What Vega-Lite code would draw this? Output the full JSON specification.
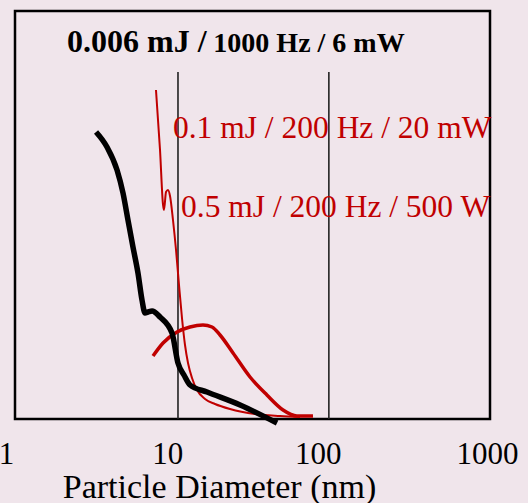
{
  "$schema": "https://vega.github.io/schema/vega-lite/v6.json",
  "width": 475,
  "height": 408,
  "autosize": {"type": "none"},
  "padding": {"left": 15, "top": 11, "right": 38, "bottom": 84},
  "background": "#f0e5eb",
  "config": {
    "view": {"stroke": "#000000", "strokeWidth": 2.5, "fill": "#f0e5eb"},
    "font": "Liberation Serif"
  },
  "datasets": {
    "black": [
      {"d": 3.25, "v": 287}, {"d": 3.81, "v": 272}, {"d": 4.41, "v": 249}, {"d": 4.81, "v": 226},
      {"d": 5.17, "v": 199}, {"d": 5.56, "v": 172}, {"d": 5.98, "v": 146}, {"d": 6.34, "v": 119},
      {"d": 6.62, "v": 106}, {"d": 6.92, "v": 107}, {"d": 7.34, "v": 108}, {"d": 8.24, "v": 102},
      {"d": 9.81, "v": 86}, {"d": 10.7, "v": 56}, {"d": 11.67, "v": 44}, {"d": 12.74, "v": 34},
      {"d": 16.32, "v": 27}, {"d": 26.4, "v": 14}, {"d": 45.2, "v": -4}
    ],
    "thinred": [
      {"d": 7.77, "v": 329}, {"d": 8.24, "v": 269}, {"d": 8.61, "v": 214}, {"d": 8.73, "v": 209},
      {"d": 8.99, "v": 227}, {"d": 9.25, "v": 229}, {"d": 9.53, "v": 223}, {"d": 9.95, "v": 199},
      {"d": 10.4, "v": 169}, {"d": 10.86, "v": 134}, {"d": 11.34, "v": 101}, {"d": 11.85, "v": 74},
      {"d": 12.38, "v": 56}, {"d": 13.12, "v": 41}, {"d": 14.11, "v": 29}, {"d": 15.85, "v": 20},
      {"d": 18.33, "v": 15}, {"d": 22.8, "v": 10}, {"d": 32.8, "v": 5}, {"d": 47.2, "v": 3}, {"d": 63.1, "v": 2}
    ],
    "thickred": [
      {"d": 7.44, "v": 63}, {"d": 8.61, "v": 76}, {"d": 10.55, "v": 87}, {"d": 12.74, "v": 92},
      {"d": 15.39, "v": 94}, {"d": 17.55, "v": 92}, {"d": 19.72, "v": 84}, {"d": 23.82, "v": 66},
      {"d": 30.5, "v": 42}, {"d": 39.0, "v": 24}, {"d": 49.3, "v": 9}, {"d": 60.4, "v": 3}, {"d": 76.2, "v": 3}
    ],
    "rules": [{"d": 10.7, "top": 347, "bottom": 0}, {"d": 96, "top": 347, "bottom": 0}],
    "title1": [{"d": 2.13, "v": 367, "t": "0.006 mJ /"}],
    "title2": [{"d": 17.9, "v": 367, "t": "1000 Hz / 6 mW"}],
    "redlabels": [
      {"d": 9.95, "v": 281, "t": "0.1 mJ / 200 Hz / 20 mW"},
      {"d": 11.18, "v": 202, "t": "0.5 mJ / 200 Hz / 500 W"}
    ]
  },
  "encoding": {
    "x": {
      "field": "d", "type": "quantitative",
      "scale": {"type": "log", "domain": [1, 1000], "nice": false},
      "axis": {
        "values": [1, 10, 100, 1000],
        "format": "d",
        "grid": false, "domain": false, "ticks": false, "tickSize": 0,
        "labelFont": "Liberation Serif", "labelFontSize": 31, "labelColor": "#000000",
        "labelBaseline": "alphabetic", "labelPadding": 44, "labelFlush": false, "labelOverlap": false,
        "labelOffset": {"condition": [
          {"test": "datum.value == 1", "value": -9},
          {"test": "datum.value == 10", "value": -6},
          {"test": "datum.value == 100", "value": -14}
        ], "value": -3},
        "title": "Particle Diameter (nm)",
        "titleFont": "Liberation Serif", "titleFontSize": 34, "titleFontWeight": "normal", "titleColor": "#000000",
        "titleX": 204, "titleY": 78, "titleAlign": "center", "titleBaseline": "alphabetic"
      }
    },
    "y": {
      "field": "v", "type": "quantitative",
      "scale": {"domain": [0, 408], "nice": false, "zero": false},
      "axis": null
    }
  },
  "layer": [
    {
      "data": {"name": "rules"},
      "mark": {"type": "rule", "color": "#222222", "strokeWidth": 1.6},
      "encoding": {"y": {"field": "top", "type": "quantitative"}, "y2": {"field": "bottom"}}
    },
    {
      "data": {"name": "thinred"},
      "mark": {"type": "line", "color": "#c00000", "strokeWidth": 2, "interpolate": "monotone", "clip": false}
    },
    {
      "data": {"name": "thickred"},
      "mark": {"type": "line", "color": "#c00000", "strokeWidth": 3.5, "interpolate": "monotone", "clip": false}
    },
    {
      "data": {"name": "black"},
      "mark": {"type": "line", "color": "#000000", "strokeWidth": 5.5, "interpolate": "monotone", "clip": false}
    },
    {
      "data": {"name": "title1"},
      "mark": {"type": "text", "align": "left", "baseline": "alphabetic", "font": "Liberation Serif", "fontSize": 32, "fontWeight": "bold", "color": "#000000"},
      "encoding": {"text": {"field": "t"}}
    },
    {
      "data": {"name": "title2"},
      "mark": {"type": "text", "align": "left", "baseline": "alphabetic", "font": "Liberation Serif", "fontSize": 28, "fontWeight": "bold", "color": "#000000"},
      "encoding": {"text": {"field": "t"}}
    },
    {
      "data": {"name": "redlabels"},
      "mark": {"type": "text", "align": "left", "baseline": "alphabetic", "font": "Liberation Serif", "fontSize": 31.5, "color": "#c00000"},
      "encoding": {"text": {"field": "t"}}
    }
  ]
}
